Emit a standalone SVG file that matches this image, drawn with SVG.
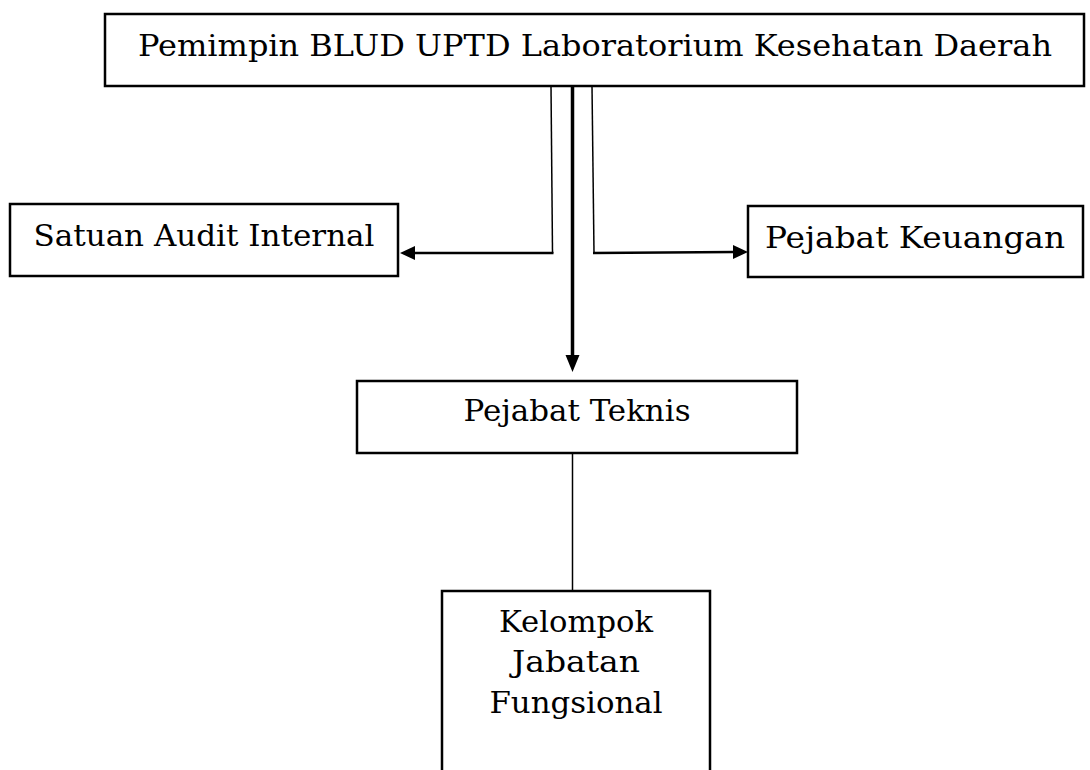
<svg xmlns="http://www.w3.org/2000/svg" width="1090" height="770" viewBox="0 0 1090 770">
<style>
.box{fill:#fff;stroke:#000;stroke-width:2.5}
.t{font-family:"DejaVu Serif","Liberation Serif",serif;font-size:30px;fill:#000;text-anchor:middle}
.thin{fill:none;stroke:#000;stroke-width:1.5}
.med{fill:none;stroke:#000;stroke-width:2.5}
.thick{fill:none;stroke:#000;stroke-width:3.5}
</style>
<rect width="1090" height="770" fill="#fff"/>
<g id="connectors">
  <line class="thick" x1="572.5" y1="86" x2="572.5" y2="358"/>
  <polygon points="565.5,355 579.5,355 572.5,372"/>
  <polyline class="thin" points="551,86 552.5,253"/>
  <line class="med" x1="553.5" y1="253" x2="412" y2="253"/>
  <polygon points="415,246 415,260 400,253"/>
  <polyline class="thin" points="592,86 594,253"/>
  <line class="med" x1="593" y1="253" x2="735" y2="252"/>
  <polygon points="733,245 733,259 748,252"/>
  <line stroke="#000" stroke-width="1.5" x1="572.5" y1="453" x2="572.5" y2="591"/>
</g>
<g id="pemimpin">
  <rect class="box" x="105" y="14" width="979" height="72"/>
  <text class="t" x="595" y="56" textLength="914" lengthAdjust="spacingAndGlyphs">Pemimpin BLUD UPTD Laboratorium Kesehatan Daerah</text>
</g>
<g id="satuan">
  <rect class="box" x="10" y="204" width="388" height="72"/>
  <text class="t" x="204" y="246" textLength="341" lengthAdjust="spacingAndGlyphs">Satuan Audit Internal</text>
</g>
<g id="keuangan">
  <rect class="box" x="748" y="206" width="335" height="71"/>
  <text class="t" x="915" y="248" textLength="300" lengthAdjust="spacingAndGlyphs">Pejabat Keuangan</text>
</g>
<g id="teknis">
  <rect class="box" x="357" y="381" width="440" height="72"/>
  <text class="t" x="577" y="421" textLength="227" lengthAdjust="spacingAndGlyphs">Pejabat Teknis</text>
</g>
<g id="kelompok">
  <path class="box" d="M442,775 V591 H710 V775"/>
  <text class="t" x="576" y="632" textLength="154" lengthAdjust="spacingAndGlyphs">Kelompok</text>
  <text class="t" x="576" y="672" textLength="128" lengthAdjust="spacingAndGlyphs">Jabatan</text>
  <text class="t" x="576" y="713" textLength="173" lengthAdjust="spacingAndGlyphs">Fungsional</text>
</g>
</svg>
